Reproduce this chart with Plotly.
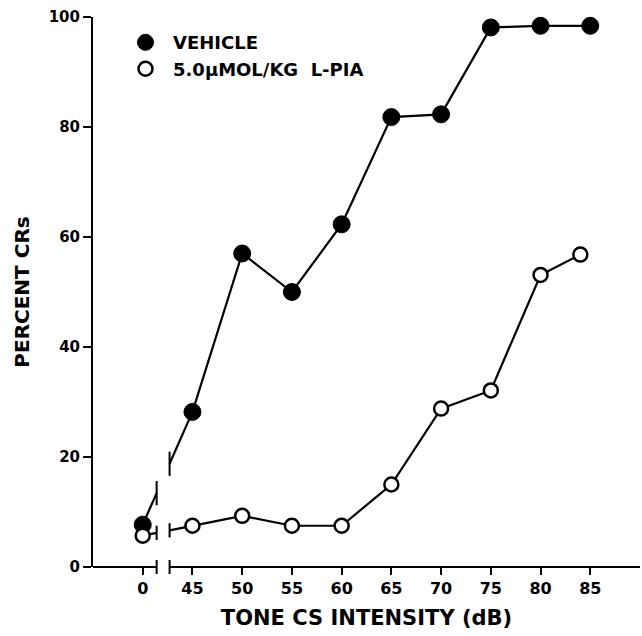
import numpy as np
import plotly.graph_objects as go

# ---- data ----
x_labels = ["0", "45", "50", "55", "60", "65", "70", "75", "80", "85"]
x_db = [0, 45, 50, 55, 60, 65, 70, 75, 80, 85]
vehicle = [7.7, 28.2, 57.0, 50.0, 62.3, 81.8, 82.3, 98.1, 98.4, 98.4]
lpia_db = [0, 45, 50, 55, 60, 65, 70, 75, 80, 84]
lpia = [5.7, 7.5, 9.3, 7.5, 7.5, 15.0, 28.8, 32.1, 53.1, 56.8]
y_ticks = [0, 20, 40, 60, 80, 100]

# ---- axis mapping (0 dB drawn one step left of 45 on the broken axis) ----
ZERO_POS = 40
def pos(v):
    return ZERO_POS if v == 0 else v

XR = [35, 90]
YR = [0, 100]
BREAK_L, BREAK_R = 41.4, 42.7
PLOT_H = 550.0

FONT = "DejaVu Sans"

fig = go.Figure()

def add_series(xs, ys, half):
    px = [pos(v) for v in xs]
    yl = float(np.interp(BREAK_L, px[:2], ys[:2]))
    yr = float(np.interp(BREAK_R, px[:2], ys[:2]))
    fig.add_trace(go.Scatter(x=[px[0], BREAK_L], y=[ys[0], yl], mode="lines",
                             line=dict(color="black", width=2.2), showlegend=False,
                             hoverinfo="skip"))
    fig.add_trace(go.Scatter(x=[BREAK_R] + px[1:], y=[yr] + ys[1:], mode="lines",
                             line=dict(color="black", width=2.2), showlegend=False,
                             hoverinfo="skip"))
    for bx, by in ((BREAK_L, yl), (BREAK_R, yr)):
        fig.add_shape(type="line", xref="x", yref="y", x0=bx, x1=bx,
                      y0=by - half, y1=by + half,
                      line=dict(color="black", width=2))
    return px

px_v = add_series(x_db, vehicle, 2.2)
px_l = add_series(lpia_db, lpia, 1.3)

fig.add_trace(go.Scatter(x=px_v, y=vehicle, mode="markers", name="VEHICLE",
                         legendgroup="a",
                         marker=dict(symbol="circle", size=17, color="black",
                                     line=dict(color="black", width=1)),
                         cliponaxis=False))
fig.add_trace(go.Scatter(x=px_l, y=lpia, mode="markers", name="5.0\u03bcMOL/KG  L-PIA",
                         legendgroup="b",
                         marker=dict(symbol="circle", size=14, color="white",
                                     line=dict(color="black", width=2.5)),
                         cliponaxis=False))

# x axis line with break (paper coords computed from axis range)
def xp(v):
    return (v - XR[0]) / (XR[1] - XR[0])

ax_line = dict(color="black", width=2)
fig.add_shape(type="line", xref="paper", yref="paper", x0=0, x1=xp(BREAK_L),
              y0=0, y1=0, line=ax_line)
fig.add_shape(type="line", xref="paper", yref="paper", x0=xp(BREAK_R), x1=1,
              y0=0, y1=0, line=ax_line)
for b in (BREAK_L, BREAK_R):
    fig.add_shape(type="line", xref="paper", yref="paper", x0=xp(b), x1=xp(b),
                  y0=-7 / PLOT_H, y1=7 / PLOT_H, line=ax_line)

fig.update_layout(
    width=642, height=636,
    margin=dict(l=93, r=2, t=17, b=69),
    paper_bgcolor="white", plot_bgcolor="white",
    font=dict(family=FONT, color="black", size=14, weight="bold"),
    showlegend=True,
    legend=dict(x=0.0457, y=0.987, xanchor="left", yanchor="top",
                font=dict(family=FONT, size=18, weight="bold"),
                bgcolor="rgba(0,0,0,0)", itemwidth=45, tracegroupgap=0),
    xaxis=dict(range=XR, tickmode="array", tickvals=[pos(v) for v in x_db],
               ticktext=x_labels, showline=False, showgrid=False, zeroline=False,
               ticks="outside", ticklen=7, tickwidth=2, tickcolor="black",
               tickfont=dict(family=FONT, size=16, weight="bold"),
               title=dict(text="TONE CS INTENSITY (dB)", standoff=13,
                          font=dict(family=FONT, size=21, weight="bold"))),
    yaxis=dict(range=YR, tickmode="array", tickvals=y_ticks,
               showline=True, linecolor="black", linewidth=2, mirror=False,
               showgrid=False, zeroline=False,
               ticks="outside", ticklen=8, tickwidth=2, tickcolor="black",
               tickfont=dict(family=FONT, size=15, weight="bold"),
               title=dict(text="PERCENT CRs", standoff=14,
                          font=dict(family=FONT, size=20, weight="bold"))),
)

fig.write_html("out.html")
